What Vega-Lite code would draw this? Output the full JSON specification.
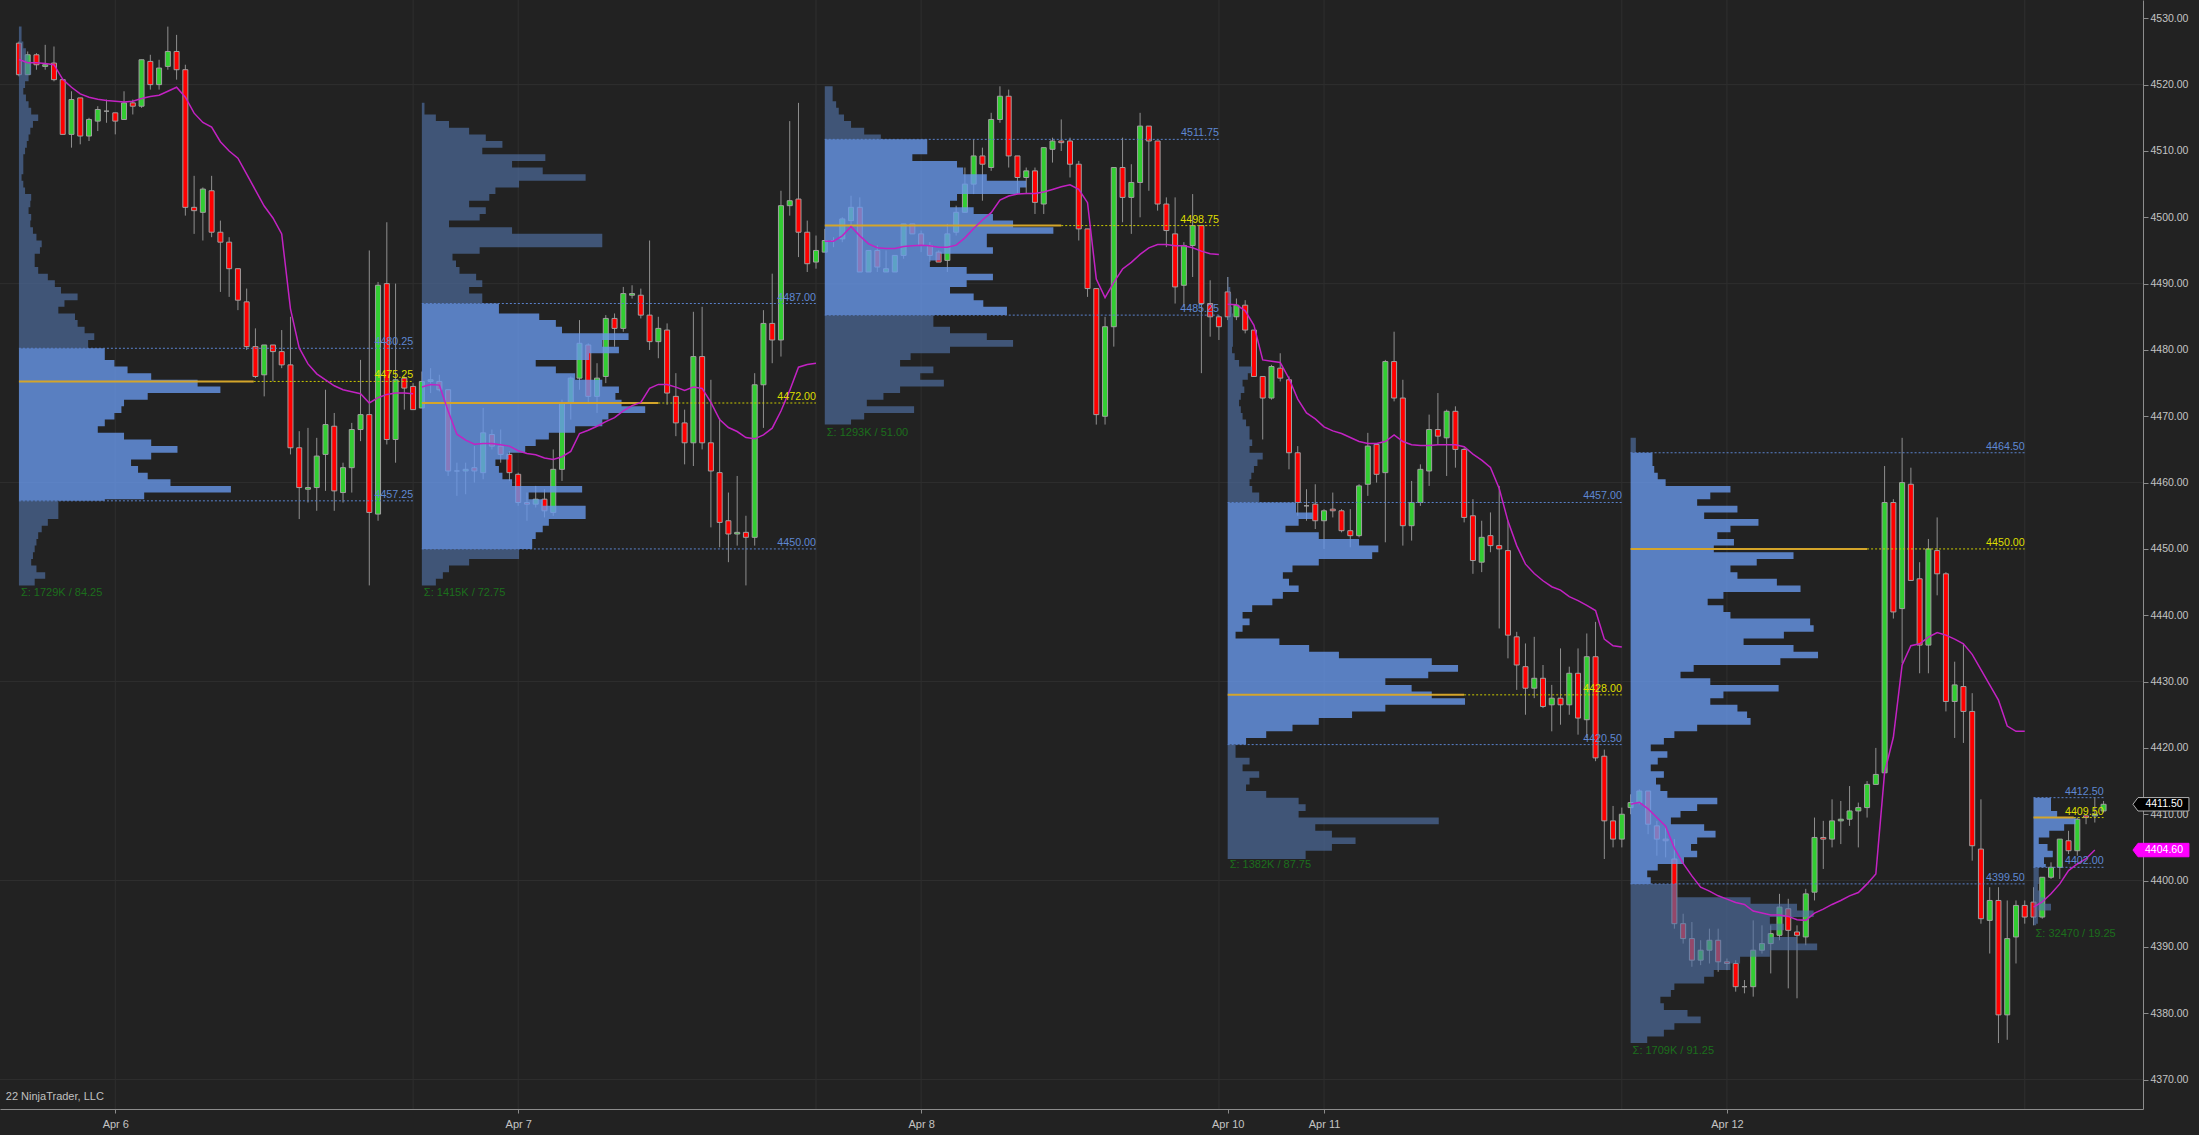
{
"$schema": "https://vega.github.io/schema/vega-lite/v6.json",
"width": 2143, "height": 1109,
"autosize": "none",
"padding": {"left": 0, "top": 0, "right": 56, "bottom": 26},
"background": "#222222",
"config": {"view": {"stroke": null}, "font": "Liberation Sans"},
"datasets": {
"hg": [{"p":4370},{"p":4400},{"p":4430},{"p":4460},{"p":4490},{"p":4520}],
"vg": [{"i":11},{"i":45},{"i":57},{"i":91},{"i":103},{"i":137},{"i":149},{"i":183},{"i":195},{"i":229}],
"mk": [{"p":4411.5,"t":"4411.50","k":"last"},{"p":4404.6,"t":"4404.60","k":"vwap"}],
"sg": [
{"s":0,"p":4443.3,"t":"Σ: 1729K / 84.25"},
{"s":46,"p":4443.3,"t":"Σ: 1415K / 72.75"},
{"s":92,"p":4467.5,"t":"Σ: 1293K / 51.00"},
{"s":138,"p":4402.3,"t":"Σ: 1382K / 87.75"},
{"s":184,"p":4374.3,"t":"Σ: 1709K / 91.25"},
{"s":230,"p":4392.0,"t":"Σ: 32470 / 19.25"}],
"lv": [
{"k":"vah","p":4480.25,"s":0,"x0":0,"e":45,"t":"4480.25"},
{"k":"poc","p":4475.25,"s":0,"x0":26.8,"e":45,"t":"4475.25"},
{"k":"val","p":4457.25,"s":0,"x0":0,"e":45,"t":"4457.25"},
{"k":"vah","p":4487,"s":46,"x0":46,"e":91,"t":"4487.00"},
{"k":"poc","p":4472,"s":46,"x0":73,"e":91,"t":"4472.00"},
{"k":"val","p":4450,"s":46,"x0":46,"e":91,"t":"4450.00"},
{"k":"vah","p":4511.75,"s":92,"x0":92,"e":137,"t":"4511.75"},
{"k":"poc","p":4498.75,"s":92,"x0":119,"e":137,"t":"4498.75"},
{"k":"val","p":4485.25,"s":92,"x0":92,"e":137,"t":"4485.25"},
{"k":"vah","p":4457,"s":138,"x0":138,"e":183,"t":"4457.00"},
{"k":"poc","p":4428,"s":138,"x0":165,"e":183,"t":"4428.00"},
{"k":"val","p":4420.5,"s":138,"x0":138,"e":183,"t":"4420.50"},
{"k":"vah","p":4464.5,"s":184,"x0":184,"e":229,"t":"4464.50"},
{"k":"poc","p":4450,"s":184,"x0":211,"e":229,"t":"4450.00"},
{"k":"val","p":4399.5,"s":184,"x0":184,"e":229,"t":"4399.50"},
{"k":"vah","p":4412.5,"s":230,"x0":230,"e":238,"t":"4412.50"},
{"k":"poc","p":4409.5,"s":230,"x0":234.6,"e":238,"t":"4409.50"},
{"k":"val","p":4402,"s":230,"x0":230,"e":238,"t":"4402.00"}],
"cd": [
{"i":0,"o":4526.25,"h":4526.5,"l":4521.25,"c":4521.5,"w":4523.8,"g":1},
{"i":1,"o":4521.5,"h":4525,"l":4521.5,"c":4524.5,"w":4523.3,"g":1},
{"i":2,"o":4524.5,"h":4524.75,"l":4522.25,"c":4523,"w":4523.3,"g":1},
{"i":3,"o":4522.75,"h":4526,"l":4522.25,"c":4523,"w":4523.2,"g":1},
{"i":4,"o":4523.25,"h":4525.75,"l":4520.5,"c":4520.75,"w":4523,"g":1},
{"i":5,"o":4520.75,"h":4520.75,"l":4512.5,"c":4512.5,"w":4520.8,"g":1},
{"i":6,"o":4512.5,"h":4519,"l":4510.5,"c":4517.75,"w":4519.6,"g":1},
{"i":7,"o":4518,"h":4518,"l":4511,"c":4512.25,"w":4518.6,"g":1},
{"i":8,"o":4512.25,"h":4515,"l":4511.5,"c":4514.75,"w":4518.1,"g":1},
{"i":9,"o":4514.5,"h":4516.75,"l":4513,"c":4516.25,"w":4517.8,"g":1},
{"i":10,"o":4516,"h":4517.75,"l":4514.25,"c":4516,"w":4517.6,"g":1},
{"i":11,"o":4515.75,"h":4515.75,"l":4512.5,"c":4514.5,"w":4517.5,"g":1},
{"i":12,"o":4514.75,"h":4519,"l":4514.75,"c":4517.25,"w":4517.4,"g":1},
{"i":13,"o":4517.25,"h":4517.75,"l":4515.5,"c":4516.75,"w":4517.5,"g":1},
{"i":14,"o":4516.75,"h":4523.75,"l":4516.5,"c":4523.75,"w":4517.9,"g":1},
{"i":15,"o":4523.5,"h":4524.5,"l":4519.25,"c":4520,"w":4518.2,"g":1},
{"i":16,"o":4520,"h":4523.75,"l":4519.25,"c":4522.5,"w":4518.4,"g":1},
{"i":17,"o":4522.75,"h":4528.75,"l":4522.25,"c":4525,"w":4519,"g":1},
{"i":18,"o":4525,"h":4527.5,"l":4520.75,"c":4522.25,"w":4519.6,"g":1},
{"i":19,"o":4522.25,"h":4523,"l":4500.25,"c":4501.5,"w":4518.1,"g":1},
{"i":20,"o":4501.5,"h":4506.25,"l":4497.5,"c":4501,"w":4515.7,"g":1},
{"i":21,"o":4500.75,"h":4504.5,"l":4496.5,"c":4504.25,"w":4514.3,"g":1},
{"i":22,"o":4504,"h":4506.25,"l":4497,"c":4497.75,"w":4513.6,"g":1},
{"i":23,"o":4497.75,"h":4499.5,"l":4488.75,"c":4496.25,"w":4511.4,"g":1},
{"i":24,"o":4496.25,"h":4497,"l":4488,"c":4492.25,"w":4510,"g":1},
{"i":25,"o":4492.25,"h":4492.25,"l":4486,"c":4487.5,"w":4508.9,"g":1},
{"i":26,"o":4487.25,"h":4489.25,"l":4480,"c":4480.5,"w":4506.5,"g":1},
{"i":27,"o":4480.5,"h":4483.25,"l":4475.75,"c":4476,"w":4504.1,"g":1},
{"i":28,"o":4476.25,"h":4480.75,"l":4473,"c":4480.75,"w":4501.7,"g":1},
{"i":29,"o":4480.75,"h":4480.75,"l":4475.25,"c":4479.75,"w":4499.9,"g":1},
{"i":30,"o":4479.75,"h":4483,"l":4477.25,"c":4477.75,"w":4497.5,"g":1},
{"i":31,"o":4477.75,"h":4485,"l":4464.25,"c":4465.25,"w":4486.2,"g":1},
{"i":32,"o":4465.25,"h":4467.75,"l":4454.5,"c":4459.25,"w":4480.3,"g":1},
{"i":33,"o":4459,"h":4468.25,"l":4457,"c":4459.25,"w":4477.9,"g":1},
{"i":34,"o":4459.25,"h":4466.75,"l":4455.75,"c":4464,"w":4476.4,"g":1},
{"i":35,"o":4464.25,"h":4474,"l":4458.75,"c":4468.75,"w":4475.5,"g":1},
{"i":36,"o":4468.5,"h":4470.5,"l":4455.75,"c":4458.75,"w":4474.6,"g":1},
{"i":37,"o":4458.5,"h":4463,"l":4457,"c":4462.25,"w":4474,"g":1},
{"i":38,"o":4462.25,"h":4469,"l":4458.5,"c":4468,"w":4473.7,"g":1},
{"i":39,"o":4468,"h":4478.5,"l":4466.25,"c":4470.25,"w":4473.4,"g":1},
{"i":40,"o":4470.25,"h":4495,"l":4444.5,"c":4455.5,"w":4472,"g":1},
{"i":41,"o":4455.25,"h":4490.25,"l":4454.25,"c":4489.75,"w":4472.8,"g":1},
{"i":42,"o":4490,"h":4499.25,"l":4465.75,"c":4466.5,"w":4473.3,"g":1},
{"i":43,"o":4466.5,"h":4490,"l":4463,"c":4475.5,"w":4473.5,"g":1},
{"i":44,"o":4475.75,"h":4476,"l":4471,"c":4474.25,"w":4473.5,"g":1},
{"i":45,"o":4474.5,"h":4475,"l":4471,"c":4471,"w":4473.4,"g":1},
{"i":46,"o":4471.25,"h":4476.75,"l":4471.25,"c":4475.25,"w":4474.4,"g":2},
{"i":47,"o":4475.25,"h":4477.25,"l":4473.5,"c":4475.5,"w":4474.8,"g":2},
{"i":48,"o":4475.25,"h":4476.25,"l":4473.75,"c":4474,"w":4474.7,"g":2},
{"i":49,"o":4474,"h":4474,"l":4461,"c":4461.75,"w":4470.8,"g":2},
{"i":50,"o":4461.75,"h":4463,"l":4458,"c":4461.75,"w":4467.3,"g":2},
{"i":51,"o":4461.75,"h":4463,"l":4458.25,"c":4462,"w":4466.4,"g":2},
{"i":52,"o":4462.25,"h":4465.5,"l":4460,"c":4461.75,"w":4465.8,"g":2},
{"i":53,"o":4461.5,"h":4471.25,"l":4460.5,"c":4467.5,"w":4465.9,"g":2},
{"i":54,"o":4467.25,"h":4468,"l":4465,"c":4465.5,"w":4465.9,"g":2},
{"i":55,"o":4465.5,"h":4468,"l":4463,"c":4464.25,"w":4465.7,"g":2},
{"i":56,"o":4464.25,"h":4464.75,"l":4460.25,"c":4461.5,"w":4465.5,"g":2},
{"i":57,"o":4461.25,"h":4461.5,"l":4456.5,"c":4457,"w":4464.8,"g":2},
{"i":58,"o":4457,"h":4458.5,"l":4454.25,"c":4456.75,"w":4464.4,"g":2},
{"i":59,"o":4456.75,"h":4459.5,"l":4456.25,"c":4457.5,"w":4464.2,"g":2},
{"i":60,"o":4457.5,"h":4459,"l":4454.75,"c":4455.75,"w":4463.7,"g":2},
{"i":61,"o":4455.5,"h":4465,"l":4455,"c":4462,"w":4463.5,"g":2},
{"i":62,"o":4462,"h":4472.5,"l":4460.25,"c":4472,"w":4463.9,"g":2},
{"i":63,"o":4472,"h":4476,"l":4469.5,"c":4475.75,"w":4464.7,"g":2},
{"i":64,"o":4475.75,"h":4484.5,"l":4474,"c":4481,"w":4467.4,"g":2},
{"i":65,"o":4480.75,"h":4481,"l":4472,"c":4473,"w":4467.9,"g":2},
{"i":66,"o":4473,"h":4478,"l":4470.5,"c":4475.75,"w":4468.5,"g":2},
{"i":67,"o":4476,"h":4485.25,"l":4475,"c":4484.75,"w":4469.2,"g":2},
{"i":68,"o":4484.75,"h":4485.5,"l":4480.5,"c":4483.25,"w":4469.8,"g":2},
{"i":69,"o":4483.25,"h":4489.5,"l":4482.75,"c":4488.5,"w":4470.8,"g":2},
{"i":70,"o":4488.25,"h":4489.75,"l":4487.75,"c":4488.5,"w":4471.6,"g":2},
{"i":71,"o":4488.25,"h":4489.25,"l":4484.75,"c":4485.25,"w":4472.1,"g":2},
{"i":72,"o":4485.25,"h":4496.5,"l":4480,"c":4481.25,"w":4474.2,"g":2},
{"i":73,"o":4481.25,"h":4485,"l":4478.75,"c":4483.25,"w":4474.8,"g":2},
{"i":74,"o":4483,"h":4484,"l":4471.75,"c":4473.5,"w":4474.8,"g":2},
{"i":75,"o":4473,"h":4476.5,"l":4467,"c":4469,"w":4474.4,"g":2},
{"i":76,"o":4469,"h":4471,"l":4462.75,"c":4466,"w":4473.9,"g":2},
{"i":77,"o":4466,"h":4485.75,"l":4462.5,"c":4479,"w":4474.4,"g":2},
{"i":78,"o":4479,"h":4486.5,"l":4465,"c":4466,"w":4474.2,"g":2},
{"i":79,"o":4466,"h":4475.5,"l":4453.25,"c":4461.75,"w":4472.1,"g":2},
{"i":80,"o":4461.5,"h":4469.75,"l":4450.25,"c":4454,"w":4469.5,"g":2},
{"i":81,"o":4454.25,"h":4458.5,"l":4448,"c":4452.25,"w":4468.3,"g":2},
{"i":82,"o":4452.25,"h":4461,"l":4450.5,"c":4452.5,"w":4467.7,"g":2},
{"i":83,"o":4452.5,"h":4455,"l":4444.5,"c":4451.75,"w":4466.8,"g":2},
{"i":84,"o":4451.75,"h":4476.5,"l":4450.5,"c":4474.75,"w":4466.6,"g":2},
{"i":85,"o":4474.75,"h":4486,"l":4468.25,"c":4484,"w":4467.2,"g":2},
{"i":86,"o":4484,"h":4491.5,"l":4478,"c":4481.5,"w":4468.2,"g":2},
{"i":87,"o":4481.5,"h":4504,"l":4479,"c":4501.75,"w":4470.8,"g":2},
{"i":88,"o":4501.75,"h":4514.5,"l":4500.25,"c":4502.5,"w":4473.9,"g":2},
{"i":89,"o":4502.75,"h":4517.25,"l":4494,"c":4497.75,"w":4477.4,"g":2},
{"i":90,"o":4497.75,"h":4499.5,"l":4491.75,"c":4493,"w":4477.8,"g":2},
{"i":91,"o":4493.25,"h":4497.25,"l":4492.25,"c":4495,"w":4478,"g":2},
{"i":92,"o":4494.75,"h":4498.25,"l":4494.75,"c":4496.5,"w":4496.4,"g":3},
{"i":93,"o":4496.5,"h":4497,"l":4495.5,"c":4496.5,"w":4496.4,"g":3},
{"i":94,"o":4496.75,"h":4500,"l":4496.25,"c":4499.75,"w":4497.2,"g":3},
{"i":95,"o":4499.5,"h":4503.25,"l":4498.5,"c":4501.5,"w":4498.6,"g":3},
{"i":96,"o":4501.5,"h":4503,"l":4491.75,"c":4491.75,"w":4497.2,"g":3},
{"i":97,"o":4491.75,"h":4495,"l":4491.75,"c":4495,"w":4496,"g":3},
{"i":98,"o":4495,"h":4495.75,"l":4491.75,"c":4492.5,"w":4495.4,"g":3},
{"i":99,"o":4491.75,"h":4495,"l":4491.75,"c":4492.25,"w":4495.3,"g":3},
{"i":100,"o":4491.75,"h":4494.25,"l":4491.75,"c":4494.25,"w":4495.3,"g":3},
{"i":101,"o":4494.25,"h":4499,"l":4493.75,"c":4499,"w":4495.6,"g":3},
{"i":102,"o":4499,"h":4499,"l":4497.5,"c":4497.5,"w":4495.7,"g":3},
{"i":103,"o":4497.5,"h":4498,"l":4494.75,"c":4495.75,"w":4495.8,"g":3},
{"i":104,"o":4495.75,"h":4496.25,"l":4493.25,"c":4494.25,"w":4495.7,"g":3},
{"i":105,"o":4494.75,"h":4495,"l":4493.25,"c":4493.25,"w":4495.5,"g":3},
{"i":106,"o":4493.5,"h":4499,"l":4491.75,"c":4497.5,"w":4495.5,"g":3},
{"i":107,"o":4497.75,"h":4501.75,"l":4497.25,"c":4500.75,"w":4495.8,"g":3},
{"i":108,"o":4500.75,"h":4507.5,"l":4500.75,"c":4505,"w":4496.9,"g":3},
{"i":109,"o":4505,"h":4511.75,"l":4503.5,"c":4509.25,"w":4498.3,"g":3},
{"i":110,"o":4509.25,"h":4510.5,"l":4502.5,"c":4508,"w":4499.6,"g":3},
{"i":111,"o":4507.5,"h":4515.75,"l":4507,"c":4514.75,"w":4500.7,"g":3},
{"i":112,"o":4514.75,"h":4519.75,"l":4514.25,"c":4518.25,"w":4502.6,"g":3},
{"i":113,"o":4518.25,"h":4519.25,"l":4507.5,"c":4509.25,"w":4503.2,"g":3},
{"i":114,"o":4509.25,"h":4509.25,"l":4503.5,"c":4506,"w":4503.5,"g":3},
{"i":115,"o":4506,"h":4507.5,"l":4503.5,"c":4507,"w":4503.6,"g":3},
{"i":116,"o":4507,"h":4507.5,"l":4500.5,"c":4502.25,"w":4503.6,"g":3},
{"i":117,"o":4502,"h":4510.5,"l":4500.5,"c":4510.5,"w":4503.8,"g":3},
{"i":118,"o":4510.25,"h":4512,"l":4508.25,"c":4511.5,"w":4504.2,"g":3},
{"i":119,"o":4511.5,"h":4514.75,"l":4510,"c":4511.25,"w":4504.6,"g":3},
{"i":120,"o":4511.5,"h":4512,"l":4506,"c":4508,"w":4504.9,"g":3},
{"i":121,"o":4508,"h":4508.5,"l":4496.5,"c":4498.25,"w":4504.2,"g":3},
{"i":122,"o":4498.25,"h":4498.25,"l":4488,"c":4489.25,"w":4502.2,"g":3},
{"i":123,"o":4489.25,"h":4489.25,"l":4468.75,"c":4470.25,"w":4490.7,"g":3},
{"i":124,"o":4470,"h":4485,"l":4468.75,"c":4483.5,"w":4487.9,"g":3},
{"i":125,"o":4483.5,"h":4507.5,"l":4480.5,"c":4507.5,"w":4490.2,"g":3},
{"i":126,"o":4507.5,"h":4512,"l":4499.25,"c":4503,"w":4492.2,"g":3},
{"i":127,"o":4503,"h":4508,"l":4497.5,"c":4505.25,"w":4493.2,"g":3},
{"i":128,"o":4505.25,"h":4515.75,"l":4500,"c":4513.75,"w":4494.4,"g":3},
{"i":129,"o":4513.75,"h":4513.75,"l":4504,"c":4511.5,"w":4495.4,"g":3},
{"i":130,"o":4511.5,"h":4511.5,"l":4501,"c":4502,"w":4495.9,"g":3},
{"i":131,"o":4502,"h":4503,"l":4495.5,"c":4498,"w":4495.9,"g":3},
{"i":132,"o":4497.5,"h":4503,"l":4487,"c":4489.5,"w":4495.7,"g":3},
{"i":133,"o":4489.75,"h":4496.25,"l":4486.5,"c":4495.75,"w":4495.7,"g":3},
{"i":134,"o":4495.75,"h":4503.5,"l":4491,"c":4498.75,"w":4495.4,"g":3},
{"i":135,"o":4498.75,"h":4498.75,"l":4476.5,"c":4487,"w":4494.9,"g":3},
{"i":136,"o":4487,"h":4490.5,"l":4482,"c":4485,"w":4494.5,"g":3},
{"i":137,"o":4485,"h":4485.25,"l":4481.5,"c":4483.5,"w":4494.4,"g":3},
{"i":138,"o":4488.75,"h":4491,"l":4484.5,"c":4485,"w":4486.9,"g":4},
{"i":139,"o":4485,"h":4487.75,"l":4484.5,"c":4486.75,"w":4486.8,"g":4},
{"i":140,"o":4486.75,"h":4487.5,"l":4482.5,"c":4483,"w":4485.9,"g":4},
{"i":141,"o":4483,"h":4483,"l":4476,"c":4476,"w":4483.7,"g":4},
{"i":142,"o":4476,"h":4476,"l":4466.5,"c":4472.75,"w":4478.5,"g":4},
{"i":143,"o":4472.75,"h":4477.75,"l":4472.5,"c":4477.5,"w":4478.3,"g":4},
{"i":144,"o":4477.25,"h":4479.5,"l":4475.25,"c":4475.75,"w":4478.1,"g":4},
{"i":145,"o":4475.5,"h":4476,"l":4462,"c":4464.5,"w":4475.7,"g":4},
{"i":146,"o":4464.5,"h":4465.5,"l":4455,"c":4457,"w":4472.6,"g":4},
{"i":147,"o":4456.5,"h":4459,"l":4454.25,"c":4456.5,"w":4470.5,"g":4},
{"i":148,"o":4456.75,"h":4459.75,"l":4453,"c":4454.25,"w":4469.6,"g":4},
{"i":149,"o":4454.25,"h":4456,"l":4450,"c":4455.75,"w":4468.4,"g":4},
{"i":150,"o":4456,"h":4458.5,"l":4454.75,"c":4455.75,"w":4467.8,"g":4},
{"i":151,"o":4455.75,"h":4456,"l":4452.5,"c":4452.75,"w":4467.4,"g":4},
{"i":152,"o":4452.75,"h":4456,"l":4450.25,"c":4452,"w":4466.8,"g":4},
{"i":153,"o":4452,"h":4459.75,"l":4451.75,"c":4459.5,"w":4466.2,"g":4},
{"i":154,"o":4459.75,"h":4467.5,"l":4458,"c":4465.5,"w":4465.9,"g":4},
{"i":155,"o":4465.75,"h":4465.75,"l":4460,"c":4461.25,"w":4465.9,"g":4},
{"i":156,"o":4461.5,"h":4478.5,"l":4451,"c":4478.25,"w":4466.2,"g":4},
{"i":157,"o":4478.25,"h":4482.75,"l":4472.25,"c":4472.75,"w":4467.2,"g":4},
{"i":158,"o":4472.75,"h":4475.5,"l":4450.5,"c":4453.5,"w":4466.2,"g":4},
{"i":159,"o":4453.5,"h":4460.25,"l":4451.25,"c":4457,"w":4465.7,"g":4},
{"i":160,"o":4457,"h":4462.75,"l":4456.5,"c":4462,"w":4465.6,"g":4},
{"i":161,"o":4461.75,"h":4470.25,"l":4459.5,"c":4468,"w":4465.6,"g":4},
{"i":162,"o":4468,"h":4473.5,"l":4465.75,"c":4467,"w":4465.7,"g":4},
{"i":163,"o":4466.75,"h":4471,"l":4461,"c":4470.75,"w":4465.7,"g":4},
{"i":164,"o":4470.75,"h":4471.5,"l":4462.25,"c":4465,"w":4465.7,"g":4},
{"i":165,"o":4465,"h":4465.25,"l":4454,"c":4454.75,"w":4465.4,"g":4},
{"i":166,"o":4455,"h":4457.5,"l":4446.25,"c":4448.25,"w":4464.3,"g":4},
{"i":167,"o":4448,"h":4454.25,"l":4446.5,"c":4451.75,"w":4463.4,"g":4},
{"i":168,"o":4452,"h":4455.5,"l":4449.5,"c":4450.5,"w":4462.3,"g":4},
{"i":169,"o":4450.5,"h":4459.5,"l":4438,"c":4450,"w":4459.1,"g":4},
{"i":170,"o":4449.75,"h":4454.25,"l":4433.5,"c":4437,"w":4454.2,"g":4},
{"i":171,"o":4436.75,"h":4437.5,"l":4428.75,"c":4432.5,"w":4450.5,"g":4},
{"i":172,"o":4432.25,"h":4435.75,"l":4425,"c":4429,"w":4447.7,"g":4},
{"i":173,"o":4429,"h":4436.75,"l":4427.5,"c":4430.5,"w":4446.3,"g":4},
{"i":174,"o":4430.5,"h":4432.5,"l":4426,"c":4426.25,"w":4445.2,"g":4},
{"i":175,"o":4426.5,"h":4429.5,"l":4422.5,"c":4427.5,"w":4444.3,"g":4},
{"i":176,"o":4427.5,"h":4435,"l":4423.5,"c":4426.5,"w":4443.8,"g":4},
{"i":177,"o":4426.5,"h":4432.25,"l":4425,"c":4431.25,"w":4442.8,"g":4},
{"i":178,"o":4431.25,"h":4435,"l":4422,"c":4424.5,"w":4442.2,"g":4},
{"i":179,"o":4424.25,"h":4437.25,"l":4421.5,"c":4433.75,"w":4441.5,"g":4},
{"i":180,"o":4433.75,"h":4439,"l":4418,"c":4418.5,"w":4440.7,"g":4},
{"i":181,"o":4418.75,"h":4419.75,"l":4403.25,"c":4409,"w":4436.4,"g":4},
{"i":182,"o":4409,"h":4411.25,"l":4405,"c":4406.25,"w":4435.4,"g":4},
{"i":183,"o":4406.25,"h":4411,"l":4405,"c":4410,"w":4435.2,"g":4},
{"i":184,"o":4411,"h":4413,"l":4410,"c":4411.75,"w":4411.5,"g":5},
{"i":185,"o":4411.75,"h":4413.75,"l":4411.5,"c":4413.5,"w":4411.8,"g":5},
{"i":186,"o":4413.5,"h":4413.5,"l":4407,"c":4408.5,"w":4410.8,"g":5},
{"i":187,"o":4408.25,"h":4409,"l":4403.75,"c":4406.25,"w":4409.5,"g":5},
{"i":188,"o":4406.25,"h":4408,"l":4403.5,"c":4406,"w":4408.2,"g":5},
{"i":189,"o":4403.25,"h":4406.25,"l":4392.75,"c":4393.5,"w":4404.9,"g":5},
{"i":190,"o":4393.5,"h":4395,"l":4390.5,"c":4391.25,"w":4402.6,"g":5},
{"i":191,"o":4391.25,"h":4393.75,"l":4387,"c":4388,"w":4400.7,"g":5},
{"i":192,"o":4388,"h":4391,"l":4387.25,"c":4389.5,"w":4399,"g":5},
{"i":193,"o":4389.5,"h":4392.75,"l":4387.5,"c":4391,"w":4398.4,"g":5},
{"i":194,"o":4391,"h":4392.75,"l":4386.25,"c":4387.75,"w":4397.7,"g":5},
{"i":195,"o":4387.75,"h":4388.25,"l":4386.5,"c":4387.5,"w":4397.2,"g":5},
{"i":196,"o":4387.5,"h":4388,"l":4383.25,"c":4384,"w":4396.7,"g":5},
{"i":197,"o":4384,"h":4385,"l":4383,"c":4384,"w":4396.4,"g":5},
{"i":198,"o":4384,"h":4394,"l":4382.5,"c":4389.5,"w":4395.4,"g":5},
{"i":199,"o":4389.5,"h":4393.25,"l":4389,"c":4390.5,"w":4395.1,"g":5},
{"i":200,"o":4390.5,"h":4393.25,"l":4386,"c":4392,"w":4394.8,"g":5},
{"i":201,"o":4391.75,"h":4398,"l":4391,"c":4396,"w":4394.8,"g":5},
{"i":202,"o":4395.75,"h":4397.25,"l":4383.75,"c":4392.5,"w":4394.6,"g":5},
{"i":203,"o":4392.25,"h":4393.25,"l":4382.25,"c":4391.75,"w":4394.1,"g":5},
{"i":204,"o":4391.5,"h":4398.75,"l":4390.25,"c":4398,"w":4394,"g":5},
{"i":205,"o":4398.25,"h":4409.5,"l":4397,"c":4406.5,"w":4395.1,"g":5},
{"i":206,"o":4406.5,"h":4409,"l":4401.75,"c":4406.25,"w":4395.7,"g":5},
{"i":207,"o":4406.25,"h":4412.25,"l":4405,"c":4409,"w":4396.4,"g":5},
{"i":208,"o":4409,"h":4412,"l":4405.5,"c":4409.25,"w":4397,"g":5},
{"i":209,"o":4409.25,"h":4414.25,"l":4408.25,"c":4410.5,"w":4397.7,"g":5},
{"i":210,"o":4410.5,"h":4411.75,"l":4405,"c":4411,"w":4398.2,"g":5},
{"i":211,"o":4411,"h":4415,"l":4409.5,"c":4414.5,"w":4399.5,"g":5},
{"i":212,"o":4414.5,"h":4420,"l":4414.5,"c":4416,"w":4401,"g":5},
{"i":213,"o":4416.25,"h":4462.5,"l":4416.25,"c":4457,"w":4416.3,"g":5},
{"i":214,"o":4457,"h":4457.5,"l":4439.5,"c":4440.5,"w":4421.6,"g":5},
{"i":215,"o":4441,"h":4466.75,"l":4432.75,"c":4460,"w":4432.5,"g":5},
{"i":216,"o":4459.75,"h":4462.25,"l":4445.25,"c":4445.25,"w":4435.4,"g":5},
{"i":217,"o":4445.5,"h":4448,"l":4431.25,"c":4435.5,"w":4435.7,"g":5},
{"i":218,"o":4435.5,"h":4451.5,"l":4431.25,"c":4450,"w":4436.7,"g":5},
{"i":219,"o":4449.75,"h":4454.75,"l":4443,"c":4446.25,"w":4437.4,"g":5},
{"i":220,"o":4446.25,"h":4446.5,"l":4425.5,"c":4427,"w":4437,"g":5},
{"i":221,"o":4427,"h":4433,"l":4421.5,"c":4429.5,"w":4436.4,"g":5},
{"i":222,"o":4429.25,"h":4435.75,"l":4420.75,"c":4425.5,"w":4435.7,"g":5},
{"i":223,"o":4425.5,"h":4428.25,"l":4403,"c":4405.25,"w":4434.1,"g":5},
{"i":224,"o":4404.75,"h":4412.25,"l":4393.5,"c":4394.25,"w":4431.8,"g":5},
{"i":225,"o":4394,"h":4399,"l":4389,"c":4397,"w":4429.5,"g":5},
{"i":226,"o":4397,"h":4399,"l":4375.5,"c":4379.75,"w":4427.2,"g":5},
{"i":227,"o":4379.75,"h":4397,"l":4376,"c":4391.25,"w":4423.3,"g":5},
{"i":228,"o":4391.5,"h":4397,"l":4387.5,"c":4396.25,"w":4422.5,"g":5},
{"i":229,"o":4396.25,"h":4397,"l":4393.5,"c":4394.5,"w":4422.5,"g":5},
{"i":230,"o":4396.75,"h":4399,"l":4393.25,"c":4394.5,"w":4396,"g":6},
{"i":231,"o":4394.5,"h":4400.5,"l":4394.25,"c":4400.5,"w":4396.8,"g":6},
{"i":232,"o":4400.5,"h":4402.75,"l":4400.25,"c":4402,"w":4398,"g":6},
{"i":233,"o":4402,"h":4406.25,"l":4400.25,"c":4406.25,"w":4399.5,"g":6},
{"i":234,"o":4406,"h":4407.5,"l":4404,"c":4404.5,"w":4401.5,"g":6},
{"i":235,"o":4404.5,"h":4409.5,"l":4403.75,"c":4409.25,"w":4402.5,"g":6},
{"i":236,"o":4409.75,"h":4409.75,"l":4408.5,"c":4409.5,"w":4403.3,"g":6},
{"i":237,"o":4409.75,"h":4412.5,"l":4408.75,"c":4410,"w":4404.6,"g":6},
{"i":238,"o":4410.5,"h":4412,"l":4410.25,"c":4411.5,"g":6}],
"pr": [
{"q":"1t","a":0,"s":0,"p":4527.5,"e":0.3},{"q":"1t","a":0,"s":0,"p":4526.5,"e":0.5},{"q":"1t","a":0,"s":0,"p":4525.5,"e":0.8},{"q":"1t","a":0,"s":0,"p":4524.5,"e":1.1},{"q":"1t","a":0,"s":0,"p":4523.5,"e":1.4},{"q":"1t","a":0,"s":0,"p":4522.5,"e":1.4},{"q":"1t","a":0,"s":0,"p":4521.5,"e":1.1},{"q":"1t","a":0,"s":0,"p":4520.5,"e":0.7},{"q":"1t","a":0,"s":0,"p":4519.5,"e":0.5},{"q":"1t","a":0,"s":0,"p":4518.5,"e":0.8},{"q":"1t","a":0,"s":0,"p":4517.5,"e":1.1},{"q":"1t","a":0,"s":0,"p":4516.5,"e":1.4},{"q":"1t","a":0,"s":0,"p":4515.5,"e":2.2},{"q":"1t","a":0,"s":0,"p":4514.5,"e":1.6},{"q":"1t","a":0,"s":0,"p":4513.5,"e":1.3},{"q":"1t","a":0,"s":0,"p":4512.5,"e":1.1},{"q":"1t","a":0,"s":0,"p":4511.5,"e":0.9},{"q":"1t","a":0,"s":0,"p":4510.5,"e":0.7},{"q":"1t","a":0,"s":0,"p":4509.5,"e":0.5},{"q":"1t","a":0,"s":0,"p":4508.5,"e":0.5},{"q":"1t","a":0,"s":0,"p":4507.5,"e":0.5},{"q":"1t","a":0,"s":0,"p":4506.5,"e":0.3},{"q":"1t","a":0,"s":0,"p":4505.5,"e":0.5},{"q":"1t","a":0,"s":0,"p":4504.5,"e":0.7},{"q":"1t","a":0,"s":0,"p":4503.5,"e":1.4},{"q":"1t","a":0,"s":0,"p":4502.5,"e":1.3},{"q":"1t","a":0,"s":0,"p":4501.5,"e":1.1},{"q":"1t","a":0,"s":0,"p":4500.5,"e":1.4},{"q":"1t","a":0,"s":0,"p":4499.5,"e":1.3},{"q":"1t","a":0,"s":0,"p":4498.5,"e":1.6},{"q":"1t","a":0,"s":0,"p":4497.5,"e":2.0},{"q":"1t","a":0,"s":0,"p":4496.5,"e":2.6},{"q":"1t","a":0,"s":0,"p":4495.5,"e":2.4},{"q":"1t","a":0,"s":0,"p":4494.5,"e":1.8},{"q":"1t","a":0,"s":0,"p":4493.5,"e":1.8},{"q":"1t","a":0,"s":0,"p":4492.5,"e":2.2},{"q":"1t","a":0,"s":0,"p":4491.5,"e":3.3},{"q":"1t","a":0,"s":0,"p":4490.5,"e":4.1},{"q":"1t","a":0,"s":0,"p":4489.5,"e":4.8},{"q":"1t","a":0,"s":0,"p":4488.5,"e":6.7},{"q":"1t","a":0,"s":0,"p":4487.5,"e":5.2},{"q":"1t","a":0,"s":0,"p":4486.5,"e":4.5},{"q":"1t","a":0,"s":0,"p":4485.5,"e":6.4},{"q":"1t","a":0,"s":0,"p":4484.5,"e":6.7},{"q":"1t","a":0,"s":0,"p":4483.5,"e":7.5},{"q":"1t","a":0,"s":0,"p":4482.5,"e":8.6},{"q":"1t","a":0,"s":0,"p":4481.5,"e":7.9},{"q":"1t","a":0,"s":0,"p":4480.25,"e":8.3},{"q":"1t","a":0,"s":0,"p":4528.75,"e":0.3},
{"q":"1v","a":1,"s":0,"p":4479.5,"e":9.8},{"q":"1v","a":1,"s":0,"p":4478.5,"e":10.9},{"q":"1v","a":1,"s":0,"p":4477.5,"e":12.4},{"q":"1v","a":1,"s":0,"p":4476.5,"e":15.1},{"q":"1v","a":1,"s":0,"p":4475.5,"e":20.4},{"q":"1v","a":1,"s":0,"p":4474.5,"e":23.0},{"q":"1v","a":1,"s":0,"p":4473.5,"e":14.7},{"q":"1v","a":1,"s":0,"p":4472.5,"e":12.0},{"q":"1v","a":1,"s":0,"p":4471.5,"e":11.7},{"q":"1v","a":1,"s":0,"p":4470.5,"e":10.9},{"q":"1v","a":1,"s":0,"p":4469.5,"e":9.8},{"q":"1v","a":1,"s":0,"p":4468.5,"e":9.0},{"q":"1v","a":1,"s":0,"p":4467.5,"e":12.0},{"q":"1v","a":1,"s":0,"p":4466.5,"e":15.1},{"q":"1v","a":1,"s":0,"p":4465.5,"e":18.1},{"q":"1v","a":1,"s":0,"p":4464.5,"e":15.1},{"q":"1v","a":1,"s":0,"p":4463.5,"e":12.8},{"q":"1v","a":1,"s":0,"p":4462.5,"e":13.6},{"q":"1v","a":1,"s":0,"p":4461.5,"e":14.7},{"q":"1v","a":1,"s":0,"p":4460.5,"e":17.3},{"q":"1v","a":1,"s":0,"p":4459.5,"e":24.2},{"q":"1v","a":1,"s":0,"p":4458.5,"e":14.3},{"q":"1v","a":1,"s":0,"p":4457.5,"e":9.8},{"q":"1v","a":1,"s":0,"p":4457.25,"e":7.5},{"q":"1v","a":1,"s":0,"p":4480.25,"e":9.8},
{"q":"1b","a":0,"s":0,"p":4455.5,"e":4.5},{"q":"1b","a":0,"s":0,"p":4454.5,"e":3.3},{"q":"1b","a":0,"s":0,"p":4453.5,"e":2.6},{"q":"1b","a":0,"s":0,"p":4452.5,"e":2.2},{"q":"1b","a":0,"s":0,"p":4451.5,"e":2.0},{"q":"1b","a":0,"s":0,"p":4450.5,"e":1.8},{"q":"1b","a":0,"s":0,"p":4449.5,"e":1.6},{"q":"1b","a":0,"s":0,"p":4448.5,"e":1.4},{"q":"1b","a":0,"s":0,"p":4447.5,"e":2.0},{"q":"1b","a":0,"s":0,"p":4446.5,"e":3.0},{"q":"1b","a":0,"s":0,"p":4445.5,"e":1.8},{"q":"1b","a":0,"s":0,"p":4444.5,"e":0.7},{"q":"1b","a":0,"s":0,"p":4457.25,"e":4.5},
{"q":"2t","a":0,"s":46,"p":4516.5,"e":46.3},{"q":"2t","a":0,"s":46,"p":4515.5,"e":47.6},{"q":"2t","a":0,"s":46,"p":4514.5,"e":49.1},{"q":"2t","a":0,"s":46,"p":4513.5,"e":51.4},{"q":"2t","a":0,"s":46,"p":4512.5,"e":53.3},{"q":"2t","a":0,"s":46,"p":4511.5,"e":55.2},{"q":"2t","a":0,"s":46,"p":4510.5,"e":52.9},{"q":"2t","a":0,"s":46,"p":4509.5,"e":60.1},{"q":"2t","a":0,"s":46,"p":4508.5,"e":56.3},{"q":"2t","a":0,"s":46,"p":4507.5,"e":59.8},{"q":"2t","a":0,"s":46,"p":4506.5,"e":64.7},{"q":"2t","a":0,"s":46,"p":4505.5,"e":57.1},{"q":"2t","a":0,"s":46,"p":4504.5,"e":54.4},{"q":"2t","a":0,"s":46,"p":4503.5,"e":53.7},{"q":"2t","a":0,"s":46,"p":4502.5,"e":51.4},{"q":"2t","a":0,"s":46,"p":4501.5,"e":53.3},{"q":"2t","a":0,"s":46,"p":4500.5,"e":52.6},{"q":"2t","a":0,"s":46,"p":4499.5,"e":49.1},{"q":"2t","a":0,"s":46,"p":4498.5,"e":56.3},{"q":"2t","a":0,"s":46,"p":4497.5,"e":66.6},{"q":"2t","a":0,"s":46,"p":4496.5,"e":66.6},{"q":"2t","a":0,"s":46,"p":4495.5,"e":52.6},{"q":"2t","a":0,"s":46,"p":4494.5,"e":49.5},{"q":"2t","a":0,"s":46,"p":4493.5,"e":49.9},{"q":"2t","a":0,"s":46,"p":4492.5,"e":50.3},{"q":"2t","a":0,"s":46,"p":4491.5,"e":52.2},{"q":"2t","a":0,"s":46,"p":4490.5,"e":52.9},{"q":"2t","a":0,"s":46,"p":4489.5,"e":51.4},{"q":"2t","a":0,"s":46,"p":4488.5,"e":52.9},{"q":"2t","a":0,"s":46,"p":4487,"e":51.0},{"q":"2t","a":0,"s":46,"p":4517.25,"e":46.3},
{"q":"2v","a":1,"s":46,"p":4486.5,"e":54.8},{"q":"2v","a":1,"s":46,"p":4485.5,"e":59.4},{"q":"2v","a":1,"s":46,"p":4484.5,"e":61.3},{"q":"2v","a":1,"s":46,"p":4483.5,"e":62.0},{"q":"2v","a":1,"s":46,"p":4482.5,"e":69.6},{"q":"2v","a":1,"s":46,"p":4481.5,"e":66.6},{"q":"2v","a":1,"s":46,"p":4480.5,"e":68.5},{"q":"2v","a":1,"s":46,"p":4479.5,"e":65.1},{"q":"2v","a":1,"s":46,"p":4478.5,"e":59.0},{"q":"2v","a":1,"s":46,"p":4477.5,"e":61.3},{"q":"2v","a":1,"s":46,"p":4476.5,"e":63.5},{"q":"2v","a":1,"s":46,"p":4475.5,"e":66.6},{"q":"2v","a":1,"s":46,"p":4474.5,"e":68.5},{"q":"2v","a":1,"s":46,"p":4473.5,"e":68.1},{"q":"2v","a":1,"s":46,"p":4472.5,"e":68.8},{"q":"2v","a":1,"s":46,"p":4471.5,"e":71.5},{"q":"2v","a":1,"s":46,"p":4470.5,"e":67.3},{"q":"2v","a":1,"s":46,"p":4469.5,"e":66.6},{"q":"2v","a":1,"s":46,"p":4468.5,"e":63.5},{"q":"2v","a":1,"s":46,"p":4467.5,"e":60.5},{"q":"2v","a":1,"s":46,"p":4466.5,"e":59.0},{"q":"2v","a":1,"s":46,"p":4465.5,"e":57.8},{"q":"2v","a":1,"s":46,"p":4464.5,"e":55.9},{"q":"2v","a":1,"s":46,"p":4463.5,"e":54.4},{"q":"2v","a":1,"s":46,"p":4462.5,"e":54.8},{"q":"2v","a":1,"s":46,"p":4461.5,"e":55.2},{"q":"2v","a":1,"s":46,"p":4460.5,"e":56.3},{"q":"2v","a":1,"s":46,"p":4459.5,"e":64.3},{"q":"2v","a":1,"s":46,"p":4458.5,"e":58.2},{"q":"2v","a":1,"s":46,"p":4457.5,"e":59.8},{"q":"2v","a":1,"s":46,"p":4456.5,"e":64.7},{"q":"2v","a":1,"s":46,"p":4455.5,"e":64.7},{"q":"2v","a":1,"s":46,"p":4454.5,"e":60.5},{"q":"2v","a":1,"s":46,"p":4453.5,"e":59.8},{"q":"2v","a":1,"s":46,"p":4452.5,"e":59.0},{"q":"2v","a":1,"s":46,"p":4451.5,"e":58.6},{"q":"2v","a":1,"s":46,"p":4450,"e":61.3},{"q":"2v","a":1,"s":46,"p":4487,"e":54.8},
{"q":"2b","a":0,"s":46,"p":4449.5,"e":57.1},{"q":"2b","a":0,"s":46,"p":4448.5,"e":51.4},{"q":"2b","a":0,"s":46,"p":4447.5,"e":49.1},{"q":"2b","a":0,"s":46,"p":4446.5,"e":48.4},{"q":"2b","a":0,"s":46,"p":4445.5,"e":47.6},{"q":"2b","a":0,"s":46,"p":4444.5,"e":46.9},{"q":"2b","a":0,"s":46,"p":4450,"e":57.1},
{"q":"3t","a":0,"s":92,"p":4518.5,"e":92.9},{"q":"3t","a":0,"s":92,"p":4517.5,"e":93.3},{"q":"3t","a":0,"s":92,"p":4516.5,"e":93.6},{"q":"3t","a":0,"s":92,"p":4515.5,"e":94.2},{"q":"3t","a":0,"s":92,"p":4514.5,"e":95.0},{"q":"3t","a":0,"s":92,"p":4513.5,"e":96.5},{"q":"3t","a":0,"s":92,"p":4512.5,"e":98.4},{"q":"3t","a":0,"s":92,"p":4511.75,"e":99.1},{"q":"3t","a":0,"s":92,"p":4519.75,"e":92.9},
{"q":"3v","a":1,"s":92,"p":4510.5,"e":103.7},{"q":"3v","a":1,"s":92,"p":4509.5,"e":102.0},{"q":"3v","a":1,"s":92,"p":4508.5,"e":107.1},{"q":"3v","a":1,"s":92,"p":4507.5,"e":107.8},{"q":"3v","a":1,"s":92,"p":4506.5,"e":110.5},{"q":"3v","a":1,"s":92,"p":4505.5,"e":115.0},{"q":"3v","a":1,"s":92,"p":4504.5,"e":114.3},{"q":"3v","a":1,"s":92,"p":4503.5,"e":107.1},{"q":"3v","a":1,"s":92,"p":4502.5,"e":106.3},{"q":"3v","a":1,"s":92,"p":4501.5,"e":109.0},{"q":"3v","a":1,"s":92,"p":4500.5,"e":111.2},{"q":"3v","a":1,"s":92,"p":4499.5,"e":113.5},{"q":"3v","a":1,"s":92,"p":4498.5,"e":118.1},{"q":"3v","a":1,"s":92,"p":4497.5,"e":110.5},{"q":"3v","a":1,"s":92,"p":4496.5,"e":110.5},{"q":"3v","a":1,"s":92,"p":4495.5,"e":111.2},{"q":"3v","a":1,"s":92,"p":4494.5,"e":105.2},{"q":"3v","a":1,"s":92,"p":4493.5,"e":104.0},{"q":"3v","a":1,"s":92,"p":4492.5,"e":108.2},{"q":"3v","a":1,"s":92,"p":4491.5,"e":111.2},{"q":"3v","a":1,"s":92,"p":4490.5,"e":108.2},{"q":"3v","a":1,"s":92,"p":4489.5,"e":106.3},{"q":"3v","a":1,"s":92,"p":4488.5,"e":109.0},{"q":"3v","a":1,"s":92,"p":4487.5,"e":110.1},{"q":"3v","a":1,"s":92,"p":4486.5,"e":112.8},{"q":"3v","a":1,"s":92,"p":4485.25,"e":105.2},{"q":"3v","a":1,"s":92,"p":4511.75,"e":103.7},
{"q":"3b","a":0,"s":92,"p":4484.5,"e":104.4},{"q":"3b","a":0,"s":92,"p":4483.5,"e":106.3},{"q":"3b","a":0,"s":92,"p":4482.5,"e":110.5},{"q":"3b","a":0,"s":92,"p":4481.5,"e":113.5},{"q":"3b","a":0,"s":92,"p":4480.5,"e":106.3},{"q":"3b","a":0,"s":92,"p":4479.5,"e":101.8},{"q":"3b","a":0,"s":92,"p":4478.5,"e":100.6},{"q":"3b","a":0,"s":92,"p":4477.5,"e":104.4},{"q":"3b","a":0,"s":92,"p":4476.5,"e":102.9},{"q":"3b","a":0,"s":92,"p":4475.5,"e":105.6},{"q":"3b","a":0,"s":92,"p":4474.5,"e":100.6},{"q":"3b","a":0,"s":92,"p":4473.5,"e":98.7},{"q":"3b","a":0,"s":92,"p":4472.5,"e":96.8},{"q":"3b","a":0,"s":92,"p":4471.5,"e":102.2},{"q":"3b","a":0,"s":92,"p":4470.5,"e":96.5},{"q":"3b","a":0,"s":92,"p":4469.5,"e":95.0},{"q":"3b","a":0,"s":92,"p":4468.75,"e":93.1},{"q":"3b","a":0,"s":92,"p":4485.25,"e":104.4},
{"q":"4t","a":0,"s":138,"p":4490.5,"e":138.1},{"q":"4t","a":0,"s":138,"p":4489.5,"e":138.3},{"q":"4t","a":0,"s":138,"p":4488.5,"e":138.4},{"q":"4t","a":0,"s":138,"p":4487.5,"e":138.4},{"q":"4t","a":0,"s":138,"p":4486.5,"e":138.5},{"q":"4t","a":0,"s":138,"p":4485.5,"e":138.6},{"q":"4t","a":0,"s":138,"p":4484.5,"e":138.6},{"q":"4t","a":0,"s":138,"p":4483.5,"e":138.6},{"q":"4t","a":0,"s":138,"p":4482.5,"e":138.6},{"q":"4t","a":0,"s":138,"p":4481.5,"e":138.6},{"q":"4t","a":0,"s":138,"p":4480.5,"e":138.5},{"q":"4t","a":0,"s":138,"p":4479.5,"e":138.8},{"q":"4t","a":0,"s":138,"p":4478.5,"e":139.3},{"q":"4t","a":0,"s":138,"p":4477.5,"e":140.8},{"q":"4t","a":0,"s":138,"p":4476.5,"e":140.3},{"q":"4t","a":0,"s":138,"p":4475.5,"e":139.7},{"q":"4t","a":0,"s":138,"p":4474.5,"e":139.9},{"q":"4t","a":0,"s":138,"p":4473.5,"e":139.5},{"q":"4t","a":0,"s":138,"p":4472.5,"e":139.3},{"q":"4t","a":0,"s":138,"p":4471.5,"e":139.5},{"q":"4t","a":0,"s":138,"p":4470.5,"e":139.7},{"q":"4t","a":0,"s":138,"p":4469.5,"e":140.1},{"q":"4t","a":0,"s":138,"p":4468.5,"e":140.5},{"q":"4t","a":0,"s":138,"p":4467.5,"e":140.5},{"q":"4t","a":0,"s":138,"p":4466.5,"e":140.8},{"q":"4t","a":0,"s":138,"p":4465.5,"e":140.5},{"q":"4t","a":0,"s":138,"p":4464.5,"e":142.0},{"q":"4t","a":0,"s":138,"p":4463.5,"e":141.4},{"q":"4t","a":0,"s":138,"p":4462.5,"e":141.0},{"q":"4t","a":0,"s":138,"p":4461.5,"e":140.7},{"q":"4t","a":0,"s":138,"p":4460.5,"e":140.5},{"q":"4t","a":0,"s":138,"p":4459.5,"e":140.8},{"q":"4t","a":0,"s":138,"p":4458.5,"e":141.6},{"q":"4t","a":0,"s":138,"p":4457,"e":143.9},{"q":"4t","a":0,"s":138,"p":4491,"e":138.1},
{"q":"4v","a":1,"s":138,"p":4456.5,"e":145.8},{"q":"4v","a":1,"s":138,"p":4455.5,"e":147.7},{"q":"4v","a":1,"s":138,"p":4454.5,"e":146.1},{"q":"4v","a":1,"s":138,"p":4453.5,"e":144.6},{"q":"4v","a":1,"s":138,"p":4452.5,"e":148.4},{"q":"4v","a":1,"s":138,"p":4451.5,"e":153.0},{"q":"4v","a":1,"s":138,"p":4450.5,"e":155.2},{"q":"4v","a":1,"s":138,"p":4449.5,"e":154.5},{"q":"4v","a":1,"s":138,"p":4448.5,"e":148.4},{"q":"4v","a":1,"s":138,"p":4447.5,"e":145.4},{"q":"4v","a":1,"s":138,"p":4446.5,"e":144.3},{"q":"4v","a":1,"s":138,"p":4445.5,"e":145.0},{"q":"4v","a":1,"s":138,"p":4444.5,"e":146.1},{"q":"4v","a":1,"s":138,"p":4443.5,"e":144.3},{"q":"4v","a":1,"s":138,"p":4442.5,"e":143.1},{"q":"4v","a":1,"s":138,"p":4441.5,"e":140.8},{"q":"4v","a":1,"s":138,"p":4440.5,"e":139.7},{"q":"4v","a":1,"s":138,"p":4439.5,"e":140.5},{"q":"4v","a":1,"s":138,"p":4438.5,"e":139.7},{"q":"4v","a":1,"s":138,"p":4437.5,"e":138.9},{"q":"4v","a":1,"s":138,"p":4436.5,"e":143.9},{"q":"4v","a":1,"s":138,"p":4435.5,"e":147.3},{"q":"4v","a":1,"s":138,"p":4434.5,"e":150.7},{"q":"4v","a":1,"s":138,"p":4433.5,"e":161.3},{"q":"4v","a":1,"s":138,"p":4432.5,"e":164.3},{"q":"4v","a":1,"s":138,"p":4431.5,"e":160.9},{"q":"4v","a":1,"s":138,"p":4430.5,"e":156.0},{"q":"4v","a":1,"s":138,"p":4429.5,"e":159.0},{"q":"4v","a":1,"s":138,"p":4428.5,"e":161.3},{"q":"4v","a":1,"s":138,"p":4427.5,"e":165.1},{"q":"4v","a":1,"s":138,"p":4426.5,"e":156.0},{"q":"4v","a":1,"s":138,"p":4425.5,"e":152.2},{"q":"4v","a":1,"s":138,"p":4424.5,"e":148.4},{"q":"4v","a":1,"s":138,"p":4423.5,"e":145.4},{"q":"4v","a":1,"s":138,"p":4422.5,"e":142.4},{"q":"4v","a":1,"s":138,"p":4421.5,"e":140.1},{"q":"4v","a":1,"s":138,"p":4420.5,"e":139.3},{"q":"4v","a":1,"s":138,"p":4457,"e":145.8},
{"q":"4b","a":0,"s":138,"p":4419.5,"e":138.9},{"q":"4b","a":0,"s":138,"p":4418.5,"e":140.5},{"q":"4b","a":0,"s":138,"p":4417.5,"e":139.7},{"q":"4b","a":0,"s":138,"p":4416.5,"e":141.6},{"q":"4b","a":0,"s":138,"p":4415.5,"e":140.5},{"q":"4b","a":0,"s":138,"p":4414.5,"e":140.1},{"q":"4b","a":0,"s":138,"p":4413.5,"e":142.4},{"q":"4b","a":0,"s":138,"p":4412.5,"e":146.1},{"q":"4b","a":0,"s":138,"p":4411.5,"e":146.9},{"q":"4b","a":0,"s":138,"p":4410.5,"e":146.1},{"q":"4b","a":0,"s":138,"p":4409.5,"e":162.1},{"q":"4b","a":0,"s":138,"p":4408.5,"e":148.0},{"q":"4b","a":0,"s":138,"p":4407.5,"e":149.9},{"q":"4b","a":0,"s":138,"p":4406.5,"e":152.6},{"q":"4b","a":0,"s":138,"p":4405.5,"e":149.9},{"q":"4b","a":0,"s":138,"p":4404.5,"e":146.9},{"q":"4b","a":0,"s":138,"p":4403.25,"e":143.5},{"q":"4b","a":0,"s":138,"p":4420.5,"e":138.9},
{"q":"5t","a":0,"s":184,"p":4465.5,"e":184.6},{"q":"5t","a":0,"s":184,"p":4464.5,"e":185.2},{"q":"5t","a":0,"s":184,"p":4466.75,"e":184.6},
{"q":"5v","a":1,"s":184,"p":4463.5,"e":186.5},{"q":"5v","a":1,"s":184,"p":4462.5,"e":186.7},{"q":"5v","a":1,"s":184,"p":4461.5,"e":187.1},{"q":"5v","a":1,"s":184,"p":4460.5,"e":188.0},{"q":"5v","a":1,"s":184,"p":4459.5,"e":195.4},{"q":"5v","a":1,"s":184,"p":4458.5,"e":193.1},{"q":"5v","a":1,"s":184,"p":4457.5,"e":191.6},{"q":"5v","a":1,"s":184,"p":4456.5,"e":196.2},{"q":"5v","a":1,"s":184,"p":4455.5,"e":192.4},{"q":"5v","a":1,"s":184,"p":4454.5,"e":198.6},{"q":"5v","a":1,"s":184,"p":4453.5,"e":195.4},{"q":"5v","a":1,"s":184,"p":4452.5,"e":193.9},{"q":"5v","a":1,"s":184,"p":4451.5,"e":195.8},{"q":"5v","a":1,"s":184,"p":4450.5,"e":193.5},{"q":"5v","a":1,"s":184,"p":4449.5,"e":202.6},{"q":"5v","a":1,"s":184,"p":4448.5,"e":198.4},{"q":"5v","a":1,"s":184,"p":4447.5,"e":195.4},{"q":"5v","a":1,"s":184,"p":4446.5,"e":196.2},{"q":"5v","a":1,"s":184,"p":4445.5,"e":200.7},{"q":"5v","a":1,"s":184,"p":4444.5,"e":203.4},{"q":"5v","a":1,"s":184,"p":4443.5,"e":194.6},{"q":"5v","a":1,"s":184,"p":4442.5,"e":192.8},{"q":"5v","a":1,"s":184,"p":4441.5,"e":194.6},{"q":"5v","a":1,"s":184,"p":4440.5,"e":195.4},{"q":"5v","a":1,"s":184,"p":4439.5,"e":204.5},{"q":"5v","a":1,"s":184,"p":4438.5,"e":204.9},{"q":"5v","a":1,"s":184,"p":4437.5,"e":201.5},{"q":"5v","a":1,"s":184,"p":4436.5,"e":196.9},{"q":"5v","a":1,"s":184,"p":4435.5,"e":202.6},{"q":"5v","a":1,"s":184,"p":4434.5,"e":205.4},{"q":"5v","a":1,"s":184,"p":4433.5,"e":201.1},{"q":"5v","a":1,"s":184,"p":4432.5,"e":191.2},{"q":"5v","a":1,"s":184,"p":4431.5,"e":189.7},{"q":"5v","a":1,"s":184,"p":4430.5,"e":193.1},{"q":"5v","a":1,"s":184,"p":4429.5,"e":200.9},{"q":"5v","a":1,"s":184,"p":4428.5,"e":194.6},{"q":"5v","a":1,"s":184,"p":4427.5,"e":193.1},{"q":"5v","a":1,"s":184,"p":4426.5,"e":196.2},{"q":"5v","a":1,"s":184,"p":4425.5,"e":197.3},{"q":"5v","a":1,"s":184,"p":4424.5,"e":197.7},{"q":"5v","a":1,"s":184,"p":4423.5,"e":191.6},{"q":"5v","a":1,"s":184,"p":4422.5,"e":189.0},{"q":"5v","a":1,"s":184,"p":4421.5,"e":187.8},{"q":"5v","a":1,"s":184,"p":4420.5,"e":186.3},{"q":"5v","a":1,"s":184,"p":4419.5,"e":188.2},{"q":"5v","a":1,"s":184,"p":4418.5,"e":187.1},{"q":"5v","a":1,"s":184,"p":4417.5,"e":186.3},{"q":"5v","a":1,"s":184,"p":4416.5,"e":187.8},{"q":"5v","a":1,"s":184,"p":4415.5,"e":186.9},{"q":"5v","a":1,"s":184,"p":4414.5,"e":187.4},{"q":"5v","a":1,"s":184,"p":4413.5,"e":188.2},{"q":"5v","a":1,"s":184,"p":4412.5,"e":193.9},{"q":"5v","a":1,"s":184,"p":4411.5,"e":191.6},{"q":"5v","a":1,"s":184,"p":4410.5,"e":189.7},{"q":"5v","a":1,"s":184,"p":4409.5,"e":188.6},{"q":"5v","a":1,"s":184,"p":4408.5,"e":192.4},{"q":"5v","a":1,"s":184,"p":4407.5,"e":193.7},{"q":"5v","a":1,"s":184,"p":4406.5,"e":191.6},{"q":"5v","a":1,"s":184,"p":4405.5,"e":190.9},{"q":"5v","a":1,"s":184,"p":4404.5,"e":191.6},{"q":"5v","a":1,"s":184,"p":4403.5,"e":190.1},{"q":"5v","a":1,"s":184,"p":4402.5,"e":187.1},{"q":"5v","a":1,"s":184,"p":4401.5,"e":185.9},{"q":"5v","a":1,"s":184,"p":4400.5,"e":186.3},{"q":"5v","a":1,"s":184,"p":4399.5,"e":188.2},{"q":"5v","a":1,"s":184,"p":4464.5,"e":186.5},
{"q":"5b","a":0,"s":184,"p":4398.5,"e":189.3},{"q":"5b","a":0,"s":184,"p":4397.5,"e":197.7},{"q":"5b","a":0,"s":184,"p":4396.5,"e":203.0},{"q":"5b","a":0,"s":184,"p":4395.5,"e":204.9},{"q":"5b","a":0,"s":184,"p":4394.5,"e":199.9},{"q":"5b","a":0,"s":184,"p":4393.5,"e":201.5},{"q":"5b","a":0,"s":184,"p":4392.5,"e":199.9},{"q":"5b","a":0,"s":184,"p":4391.5,"e":203.0},{"q":"5b","a":0,"s":184,"p":4390.5,"e":205.3},{"q":"5b","a":0,"s":184,"p":4389.5,"e":199.9},{"q":"5b","a":0,"s":184,"p":4388.5,"e":196.5},{"q":"5b","a":0,"s":184,"p":4387.5,"e":195.4},{"q":"5b","a":0,"s":184,"p":4386.5,"e":193.5},{"q":"5b","a":0,"s":184,"p":4385.5,"e":192.4},{"q":"5b","a":0,"s":184,"p":4384.5,"e":189.0},{"q":"5b","a":0,"s":184,"p":4383.5,"e":188.6},{"q":"5b","a":0,"s":184,"p":4382.5,"e":187.4},{"q":"5b","a":0,"s":184,"p":4381.5,"e":187.8},{"q":"5b","a":0,"s":184,"p":4380.5,"e":190.5},{"q":"5b","a":0,"s":184,"p":4379.5,"e":192.0},{"q":"5b","a":0,"s":184,"p":4378.5,"e":189.0},{"q":"5b","a":0,"s":184,"p":4377.5,"e":187.8},{"q":"5b","a":0,"s":184,"p":4376.5,"e":185.9},{"q":"5b","a":0,"s":184,"p":4375.5,"e":184.8},{"q":"5b","a":0,"s":184,"p":4399.5,"e":189.3},
{"q":"6v","a":1,"s":230,"p":4411.5,"e":232.0},{"q":"6v","a":1,"s":230,"p":4410.5,"e":232.7},{"q":"6v","a":1,"s":230,"p":4409.5,"e":234.8},{"q":"6v","a":1,"s":230,"p":4408.5,"e":233.5},{"q":"6v","a":1,"s":230,"p":4407.5,"e":231.8},{"q":"6v","a":1,"s":230,"p":4406.5,"e":230.6},{"q":"6v","a":1,"s":230,"p":4405.5,"e":231.6},{"q":"6v","a":1,"s":230,"p":4404.5,"e":232.2},{"q":"6v","a":1,"s":230,"p":4403.5,"e":231.2},{"q":"6v","a":1,"s":230,"p":4402.5,"e":231.4},{"q":"6v","a":1,"s":230,"p":4402,"e":232.2},{"q":"6v","a":1,"s":230,"p":4412.5,"e":232.0},
{"q":"6b","a":0,"s":230,"p":4400.5,"e":230.6},{"q":"6b","a":0,"s":230,"p":4399.5,"e":230.5},{"q":"6b","a":0,"s":230,"p":4398.5,"e":230.8},{"q":"6b","a":0,"s":230,"p":4397.5,"e":231.2},{"q":"6b","a":0,"s":230,"p":4396.5,"e":232.0},{"q":"6b","a":0,"s":230,"p":4395.5,"e":230.6},{"q":"6b","a":0,"s":230,"p":4394.5,"e":230.5},{"q":"6b","a":0,"s":230,"p":4393.5,"e":230.3},{"q":"6b","a":0,"s":230,"p":4393.25,"e":230.2},{"q":"6b","a":0,"s":230,"p":4402,"e":230.6}]
},
"layer": [
{"data":{"name":"hg"},"mark":{"type":"rule","color":"#2f2f2f","strokeWidth":1},
 "encoding":{"y":{"field":"p","type":"quantitative","scale":{"domain":[4365.56,4532.76],"nice":false,"zero":false},
  "axis":{"orient":"right","values":[4370,4380,4390,4400,4410,4420,4430,4440,4450,4460,4470,4480,4490,4500,4510,4520,4530],"format":".2f","grid":false,"title":null,"domainColor":"#8c8c8c","tickColor":"#8c8c8c","tickSize":5,"labelPadding":2,"labelColor":"#c4c4c4","labelFontSize":10.5,"labelFont":"Liberation Sans","labelFlush":false,"labelOverlap":false}}}},
{"data":{"name":"vg"},"mark":{"type":"rule","color":"#2f2f2f","strokeWidth":1},
 "encoding":{"x":{"field":"i","type":"quantitative","scale":{"domain":[-1.591,241.93],"nice":false,"zero":false},
  "axis":{"orient":"bottom","values":[11,57,103,138,149,195],"labelExpr":"datum.value == 11 ? 'Apr 6' : datum.value == 57 ? 'Apr 7' : datum.value == 103 ? 'Apr 8' : datum.value == 138 ? 'Apr 10' : datum.value == 149 ? 'Apr 11' : 'Apr 12'","grid":false,"title":null,"domainColor":"#8c8c8c","tickColor":"#8c8c8c","tickSize":4,"labelPadding":5,"labelColor":"#c4c4c4","labelFontSize":11,"labelFont":"Liberation Sans","labelFlush":false,"labelOverlap":false}}}},
{"data":{"name":"cd"},"mark":{"type":"rule","color":"#8f8f8f","strokeWidth":1},
 "encoding":{"x":{"field":"i","type":"quantitative"},"y":{"field":"l","type":"quantitative"},"y2":{"field":"h"}}},
{"data":{"name":"cd"},"mark":{"type":"bar","width":5,"stroke":"#a0a0a0","strokeWidth":1},
 "encoding":{"x":{"field":"i","type":"quantitative"},"y":{"field":"o","type":"quantitative"},"y2":{"field":"c"},
  "fill":{"condition":{"test":"datum.c >= datum.o","value":"#32cd32"},"value":"#ff0000"}}},
{"data":{"name":"pr"},"mark":{"type":"area","orient":"horizontal","interpolate":"step-before"},
 "encoding":{"y":{"field":"p","type":"quantitative"},"x":{"field":"e","type":"quantitative"},"x2":{"field":"s"},
  "detail":{"field":"q","type":"nominal"},
  "fill":{"condition":{"test":"datum.a == 1","value":"#6897ea"},"value":"#5274ab"},
  "fillOpacity":{"condition":{"test":"datum.a == 1","value":0.8},"value":0.62}}},
{"data":{"name":"lv"},"mark":{"type":"rule","strokeDash":[2,2],"strokeWidth":1},
 "encoding":{"x":{"field":"x0","type":"quantitative"},"x2":{"field":"e"},"y":{"field":"p","type":"quantitative"},
  "stroke":{"condition":{"test":"datum.k == 'poc'","value":"#c8c800"},"value":"#5a82cc"}}},
{"data":{"name":"lv"},"transform":[{"filter":"datum.k == 'poc'"}],"mark":{"type":"rule","color":"#d4a52a","strokeWidth":2},
 "encoding":{"x":{"field":"s","type":"quantitative"},"x2":{"field":"x0"},"y":{"field":"p","type":"quantitative"}}},
{"data":{"name":"cd"},"mark":{"type":"line","color":"#c322c3","strokeWidth":1.5},
 "encoding":{"x":{"field":"i","type":"quantitative"},"y":{"field":"w","type":"quantitative"},"detail":{"field":"g","type":"nominal"}}},
{"data":{"name":"lv"},"mark":{"type":"text","align":"right","baseline":"bottom","fontSize":10.7,"dy":-1},
 "encoding":{"x":{"field":"e","type":"quantitative"},"y":{"field":"p","type":"quantitative"},"text":{"field":"t"},
  "fill":{"condition":{"test":"datum.k == 'poc'","value":"#dede00"},"value":"#5f88d2"}}},
{"data":{"name":"sg"},"mark":{"type":"text","align":"left","baseline":"middle","fontSize":11,"dx":2,"color":"#1c6e1c"},
 "encoding":{"x":{"field":"s","type":"quantitative"},"y":{"field":"p","type":"quantitative"},"text":{"field":"t"}}},
{"data":{"name":"mk"},"mark":{"type":"point","filled":true,"shape":"M -1 0 L -0.82 -0.24 L 1 -0.24 L 1 0.24 L -0.82 0.24 Z","size":3136,"opacity":1,"strokeWidth":1},
 "encoding":{"x":{"datum":244.55,"type":"quantitative"},"y":{"field":"p","type":"quantitative"},
  "fill":{"condition":{"test":"datum.k == 'last'","value":"#000000"},"value":"#ff00ff"},
  "stroke":{"condition":{"test":"datum.k == 'last'","value":"#b0b0b0"},"value":"#ff00ff"}}},
{"data":{"name":"mk"},"mark":{"type":"text","align":"center","baseline":"middle","fontSize":10.5,"color":"#ffffff"},
 "encoding":{"x":{"datum":244.9,"type":"quantitative"},"y":{"field":"p","type":"quantitative"},"text":{"field":"t"}}},
{"data":{"values":[{"t":"22 NinjaTrader, LLC"}]},"mark":{"type":"text","align":"left","baseline":"middle","fontSize":11,"color":"#c0c0c0"},
 "encoding":{"x":{"datum":-1.5,"type":"quantitative"},"y":{"datum":4367.4,"type":"quantitative"},"text":{"field":"t"}}}
]
}
